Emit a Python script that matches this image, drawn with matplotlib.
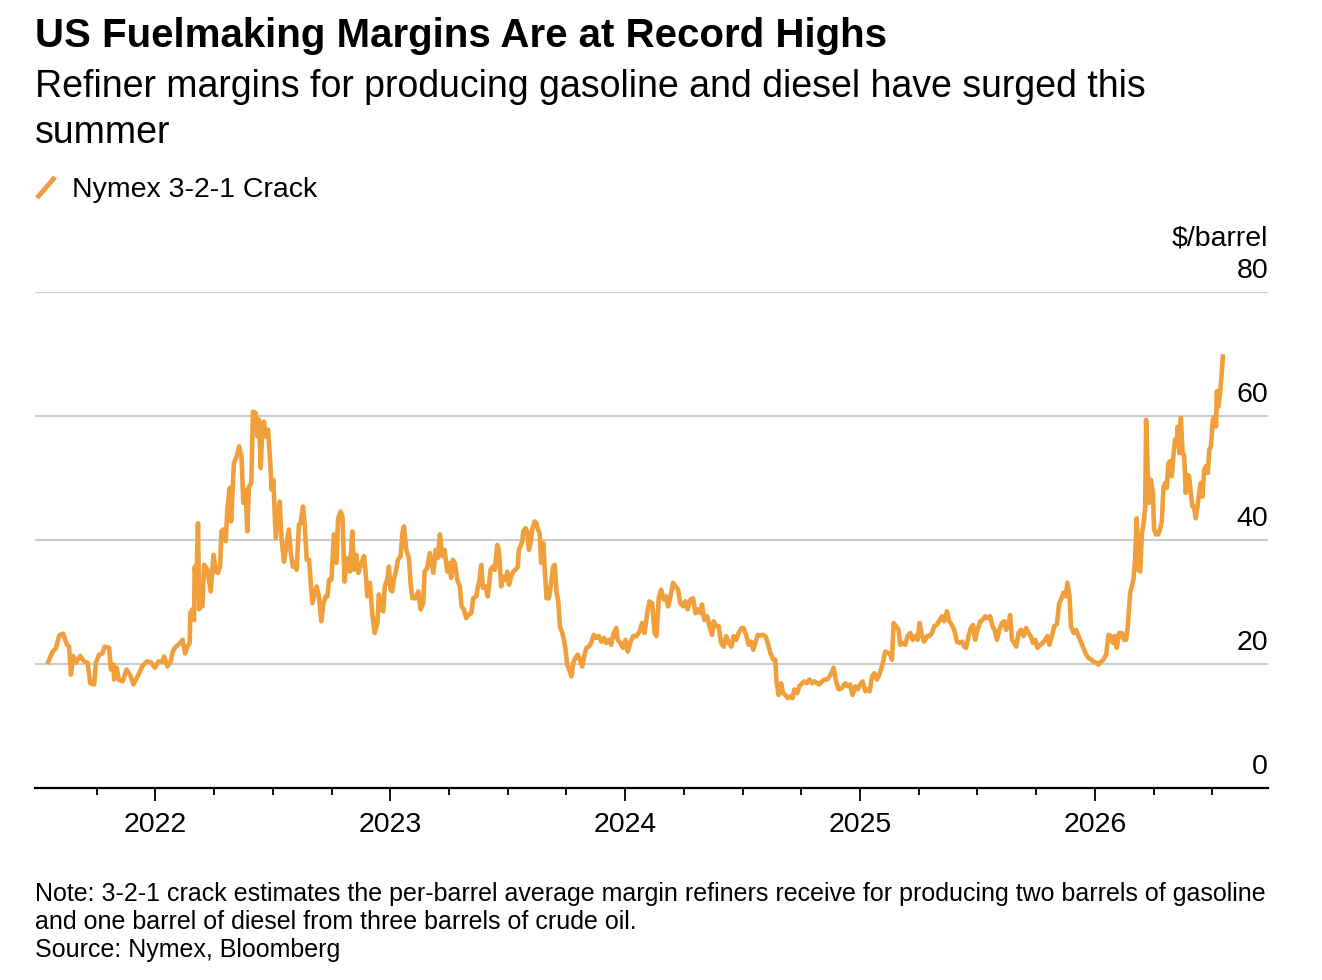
import matplotlib
matplotlib.use("Agg")
import matplotlib.pyplot as plt
import matplotlib.transforms as mtransforms
from matplotlib.lines import Line2D

plt.rcParams['font.family'] = ['Liberation Sans', 'DejaVu Sans']

# Nymex 3-2-1 crack, $/barrel (time as decimal year)
years = [
    2021.543, 2021.562, 2021.576, 2021.590, 2021.607, 2021.623, 2021.632, 2021.640, 2021.649, 2021.661,
    2021.679, 2021.696, 2021.711, 2021.722, 2021.739, 2021.746, 2021.760, 2021.774, 2021.784, 2021.803,
    2021.810, 2021.821, 2021.824, 2021.835, 2021.843, 2021.860, 2021.877, 2021.895, 2021.906, 2021.920,
    2021.934, 2021.945, 2021.963, 2021.980, 2021.997, 2022.013, 2022.030, 2022.037, 2022.051, 2022.065,
    2022.072, 2022.082, 2022.094, 2022.105, 2022.115, 2022.126, 2022.136, 2022.146, 2022.148, 2022.157,
    2022.164, 2022.167, 2022.174, 2022.181, 2022.186, 2022.193, 2022.200, 2022.207, 2022.221, 2022.235,
    2022.247, 2022.257, 2022.266, 2022.275, 2022.281, 2022.289, 2022.299, 2022.306, 2022.316, 2022.322,
    2022.334, 2022.346, 2022.356, 2022.366, 2022.374, 2022.384, 2022.391, 2022.398, 2022.408, 2022.415,
    2022.427, 2022.434, 2022.441, 2022.448, 2022.455, 2022.462, 2022.469, 2022.479, 2022.488, 2022.494,
    2022.502, 2022.512, 2022.519, 2022.529, 2022.536, 2022.547, 2022.557, 2022.568, 2022.576, 2022.585,
    2022.593, 2022.601, 2022.611, 2022.618, 2022.628, 2022.635, 2022.644, 2022.654, 2022.661, 2022.668,
    2022.678, 2022.686, 2022.696, 2022.706, 2022.715, 2022.725, 2022.732, 2022.739, 2022.749, 2022.753,
    2022.760, 2022.771, 2022.777, 2022.788, 2022.796, 2022.805, 2022.813, 2022.820, 2022.828, 2022.838,
    2022.845, 2022.855, 2022.864, 2022.874, 2022.888, 2022.895, 2022.902, 2022.913, 2022.923, 2022.933,
    2022.945, 2022.951, 2022.962, 2022.970, 2022.976, 2022.987, 2022.994, 2023.001, 2023.008, 2023.015,
    2023.025, 2023.032, 2023.044, 2023.051, 2023.058, 2023.068, 2023.079, 2023.086, 2023.094, 2023.108,
    2023.119, 2023.129, 2023.140, 2023.146, 2023.157, 2023.168, 2023.183, 2023.193, 2023.202, 2023.211,
    2023.221, 2023.231, 2023.242, 2023.249, 2023.259, 2023.266, 2023.275, 2023.285, 2023.296, 2023.303,
    2023.313, 2023.323, 2023.334, 2023.345, 2023.353, 2023.366, 2023.373, 2023.380, 2023.387, 2023.394,
    2023.405, 2023.415, 2023.427, 2023.436, 2023.445, 2023.455, 2023.462, 2023.472, 2023.481, 2023.491,
    2023.498, 2023.505, 2023.515, 2023.523, 2023.533, 2023.543, 2023.547, 2023.554, 2023.562, 2023.566,
    2023.576, 2023.583, 2023.590, 2023.597, 2023.604, 2023.614, 2023.622, 2023.628, 2023.636, 2023.642,
    2023.651, 2023.656, 2023.665, 2023.675, 2023.685, 2023.693, 2023.700, 2023.708, 2023.715, 2023.722,
    2023.732, 2023.739, 2023.746, 2023.753, 2023.764, 2023.771, 2023.779, 2023.788, 2023.798, 2023.807,
    2023.817, 2023.827, 2023.835, 2023.845, 2023.855, 2023.866, 2023.876, 2023.888, 2023.898, 2023.909,
    2023.919, 2023.930, 2023.940, 2023.951, 2023.962, 2023.968, 2023.980, 2023.990, 2024.001, 2024.011,
    2024.022, 2024.034, 2024.048, 2024.062, 2024.072, 2024.082, 2024.094, 2024.103, 2024.115, 2024.125,
    2024.133, 2024.143, 2024.153, 2024.164, 2024.174, 2024.183, 2024.193, 2024.204, 2024.214, 2024.225,
    2024.235, 2024.247, 2024.256, 2024.266, 2024.278, 2024.289, 2024.299, 2024.309, 2024.320, 2024.327,
    2024.337, 2024.349, 2024.359, 2024.370, 2024.377, 2024.388, 2024.398, 2024.408, 2024.419, 2024.430,
    2024.441, 2024.452, 2024.462, 2024.473, 2024.483, 2024.495, 2024.504, 2024.515, 2024.526, 2024.536,
    2024.545, 2024.554, 2024.564, 2024.576, 2024.587, 2024.597, 2024.607, 2024.618, 2024.630, 2024.639,
    2024.644, 2024.653, 2024.664, 2024.672, 2024.682, 2024.692, 2024.703, 2024.713, 2024.720, 2024.732,
    2024.741, 2024.753, 2024.763, 2024.774, 2024.784, 2024.796, 2024.805, 2024.817, 2024.827, 2024.838,
    2024.849, 2024.859, 2024.870, 2024.881, 2024.887, 2024.898, 2024.909, 2024.923, 2024.937, 2024.947,
    2024.958, 2024.968, 2024.980, 2024.990, 2025.001, 2025.011, 2025.022, 2025.032, 2025.041, 2025.051,
    2025.061, 2025.072, 2025.082, 2025.093, 2025.100, 2025.107, 2025.117, 2025.129, 2025.136, 2025.143,
    2025.153, 2025.164, 2025.171, 2025.183, 2025.193, 2025.202, 2025.214, 2025.224, 2025.235, 2025.245,
    2025.253, 2025.264, 2025.273, 2025.285, 2025.295, 2025.306, 2025.316, 2025.327, 2025.339, 2025.349,
    2025.358, 2025.370, 2025.380, 2025.391, 2025.401, 2025.413, 2025.424, 2025.434, 2025.444, 2025.452,
    2025.462, 2025.472, 2025.481, 2025.490, 2025.500, 2025.512, 2025.521, 2025.533, 2025.543, 2025.554,
    2025.564, 2025.573, 2025.583, 2025.593, 2025.604, 2025.614, 2025.622, 2025.632, 2025.639, 2025.647,
    2025.656, 2025.665, 2025.675, 2025.685, 2025.696, 2025.707, 2025.717, 2025.727, 2025.736, 2025.746,
    2025.755, 2025.767, 2025.778, 2025.788, 2025.798, 2025.806, 2025.817, 2025.827, 2025.838, 2025.848,
    2025.856, 2025.866, 2025.876, 2025.883, 2025.892, 2025.898, 2025.909, 2025.920, 2025.930, 2025.940,
    2025.951, 2025.963, 2025.972, 2025.984, 2025.994, 2026.005, 2026.015, 2026.025, 2026.036, 2026.048,
    2026.058, 2026.068, 2026.076, 2026.086, 2026.093, 2026.103, 2026.115, 2026.124, 2026.133, 2026.140,
    2026.150, 2026.157, 2026.164, 2026.171, 2026.178, 2026.185, 2026.193, 2026.200, 2026.207, 2026.214,
    2026.218, 2026.225, 2026.231, 2026.238, 2026.247, 2026.252, 2026.260, 2026.270, 2026.277, 2026.285,
    2026.292, 2026.299, 2026.306, 2026.313, 2026.320, 2026.327, 2026.334, 2026.341, 2026.349, 2026.353,
    2026.360, 2026.366, 2026.373, 2026.380, 2026.387, 2026.394, 2026.401, 2026.408, 2026.415, 2026.422,
    2026.429, 2026.436, 2026.444, 2026.451, 2026.458, 2026.465, 2026.473, 2026.481, 2026.487, 2026.494,
    2026.502, 2026.509, 2026.516, 2026.519, 2026.526, 2026.533, 2026.540, 2026.545,
]
crack = [
    20.3, 22.0, 22.5, 24.6, 24.9, 23.1, 22.8, 18.3, 21.3, 20.2,
    21.3, 20.4, 20.2, 16.9, 16.7, 20.2, 21.5, 21.7, 22.8, 22.6,
    19.1, 19.9, 17.5, 19.4, 17.5, 17.2, 19.1, 18.0, 16.7, 17.7,
    18.8, 19.7, 20.4, 20.3, 19.4, 20.4, 20.4, 21.2, 19.6, 20.4,
    21.8, 22.6, 23.0, 23.4, 23.9, 21.7, 22.8, 23.4, 28.2, 28.8,
    27.1, 35.7, 33.1, 42.7, 28.8, 29.8, 29.3, 36.0, 35.2, 31.7,
    37.6, 34.9, 34.7, 35.7, 41.4, 41.7, 39.8, 44.9, 48.4, 43.0,
    52.4, 53.5, 55.1, 53.5, 46.0, 48.1, 41.4, 48.6, 49.2, 60.7,
    60.5, 56.7, 59.4, 51.6, 57.8, 59.1, 56.7, 57.8, 53.0, 48.1,
    49.7, 40.3, 42.7, 46.2, 40.6, 36.5, 39.0, 41.7, 37.9, 35.7,
    36.3, 35.2, 42.5, 42.7, 45.4, 42.7, 36.8, 36.8, 33.1, 29.8,
    31.2, 32.5, 30.9, 26.9, 29.8, 30.9, 30.9, 33.6, 33.6, 36.3,
    40.9, 36.3, 43.3, 44.6, 43.8, 33.3, 36.3, 37.1, 34.9, 41.4,
    35.2, 37.6, 34.7, 36.0, 37.4, 34.7, 30.9, 33.1, 28.2, 25.0,
    26.6, 31.2, 28.8, 28.5, 32.5, 33.6, 35.7, 32.0, 31.7, 33.6,
    35.2, 36.8, 37.4, 41.1, 42.2, 38.4, 37.1, 33.1, 30.6, 30.6,
    31.7, 28.8, 29.8, 34.9, 35.5, 37.9, 34.7, 38.4, 37.1, 40.9,
    37.4, 38.4, 34.9, 36.3, 33.9, 36.8, 36.3, 33.6, 32.5, 29.3,
    28.8, 27.4, 28.0, 28.2, 30.6, 30.9, 32.5, 33.6, 36.0, 32.3,
    32.5, 30.9, 35.2, 35.7, 35.2, 39.2, 38.4, 32.5, 34.1, 33.6,
    34.9, 32.8, 34.1, 34.9, 35.2, 35.7, 38.4, 39.0, 39.8, 41.4,
    41.9, 41.4, 38.4, 39.5, 41.7, 43.0, 42.7, 41.7, 41.1, 36.3,
    39.5, 36.3, 30.6, 30.6, 33.1, 35.7, 36.0, 31.5, 30.1, 26.1,
    25.0, 23.9, 22.3, 19.9, 18.8, 18.0, 20.2, 21.0, 21.5, 20.7,
    19.6, 21.5, 22.6, 22.8, 23.4, 24.7, 24.2, 24.5, 23.6, 24.2,
    23.4, 23.9, 23.1, 25.0, 25.8, 23.9, 23.4, 22.6, 23.9, 22.0,
    23.5, 24.5, 24.5, 25.3, 26.6, 25.0, 28.2, 30.1, 29.8, 25.0,
    24.5, 30.6, 32.0, 30.4, 30.9, 29.3, 30.9, 33.1, 32.5, 32.0,
    29.8, 29.3, 30.1, 28.8, 30.4, 30.6, 28.2, 28.8, 28.2, 29.6,
    27.1, 27.7, 26.1, 24.7, 26.9, 26.1, 26.1, 23.4, 22.8, 24.5,
    23.4, 22.8, 24.5, 23.9, 25.0, 25.8, 25.8, 24.7, 23.1, 23.6,
    22.3, 23.4, 24.7, 24.6, 24.7, 24.5, 23.4, 21.8, 20.7, 20.7,
    17.2, 15.0, 16.9, 15.3, 15.0, 14.5, 14.8, 14.5, 15.9, 15.3,
    16.4, 16.9, 17.2, 16.9, 17.5, 16.9, 17.2, 16.9, 16.7, 17.2,
    17.5, 17.5, 18.0, 18.8, 19.4, 17.2, 15.9, 16.1, 16.9, 16.4,
    16.7, 15.0, 16.4, 15.9, 16.7, 17.2, 15.6, 15.9, 15.6, 18.0,
    18.5, 17.5, 18.3, 19.6, 20.7, 22.0, 21.8, 21.5, 20.7, 26.6,
    26.1, 25.5, 23.1, 23.4, 23.1, 24.5, 25.0, 23.9, 24.5, 23.9,
    26.6, 24.5, 23.6, 24.5, 24.5, 25.0, 26.1, 26.3, 27.1, 27.7,
    26.9, 28.5, 26.9, 26.3, 25.5, 23.6, 23.4, 23.6, 22.8, 22.6,
    24.5, 25.8, 26.3, 23.9, 25.5, 26.9, 27.1, 27.7, 27.4, 27.7,
    26.1, 25.5, 23.9, 25.5, 26.6, 26.9, 25.5, 26.6, 27.9, 23.9,
    23.4, 22.8, 25.0, 25.5, 24.5, 25.8, 25.0, 24.5, 23.4, 23.9,
    22.6, 23.1, 23.4, 23.9, 24.5, 23.1, 24.5, 26.1, 26.4, 29.8,
    30.4, 31.5, 30.9, 33.1, 30.9, 26.1, 25.0, 25.5, 24.5, 23.6,
    22.6, 21.5, 21.0, 20.7, 20.4, 20.2, 19.9, 20.3, 20.7, 21.5,
    24.7, 24.5, 23.4, 24.5, 22.6, 25.0, 25.0, 23.9, 23.9, 26.1,
    31.5, 32.5, 33.6, 36.8, 43.5, 35.2, 34.9, 41.1, 42.5, 45.2,
    59.4, 50.8, 46.0, 49.7, 47.6, 41.7, 40.9, 40.9, 41.7, 43.0,
    48.6, 49.2, 48.4, 52.4, 52.7, 50.3, 53.5, 56.2, 56.2, 58.3,
    54.0, 59.7, 54.3, 53.5, 47.6, 50.5, 50.3, 47.6, 45.4, 45.4,
    43.5, 45.2, 47.6, 49.2, 47.0, 51.3, 51.9, 50.8, 54.6, 55.1,
    59.4, 59.9, 58.3, 64.0, 61.5, 63.7, 66.9, 69.6,
]

year_ticks = [2022, 2023, 2024, 2025, 2026]
quarter_ticks = [2021.75, 2022.25, 2022.5, 2022.75, 2023.25, 2023.5, 2023.75,
                 2024.25, 2024.5, 2024.75, 2025.25, 2025.5, 2025.75, 2026.25, 2026.5]
y_ticks = [0, 20, 40, 60, 80]

orange = '#f09f3a'
W, H = 1322, 980

fig = plt.figure(figsize=(W / 100, H / 100), dpi=100)
ax = fig.add_axes([35 / W, 1 - 788 / H, (1268 - 35) / W, (788 - 292) / H])

ax.plot(years, crack, color=orange, lw=3.3, solid_joinstyle='round', zorder=3)

ax.set_xlim(2021.487, 2026.737)
ax.set_ylim(0, 80)

# grid lines + labels sitting above each line on the right
for v in y_ticks[1:]:
    ax.axhline(v, color='#cccccc', lw=1.5, zorder=1)
lab_tr = mtransforms.blended_transform_factory(ax.transAxes, ax.transData)
for v in y_ticks:
    ax.annotate(str(v), xy=(1.0, v), xycoords=lab_tr, xytext=(0, 10), textcoords='offset points',
                ha='right', va='baseline', fontsize=20.5, color='black')
ax.set_yticks([])

for s in ['left', 'right', 'top']:
    ax.spines[s].set_visible(False)
ax.spines['bottom'].set_color('black')
ax.spines['bottom'].set_linewidth(1.6)

ax.set_xticks(year_ticks)
ax.set_xticklabels([str(y) for y in year_ticks], fontsize=20.5)
ax.set_xticks(quarter_ticks, minor=True)
ax.tick_params(axis='x', which='major', length=9.5, width=1.3, color='black', pad=8)
ax.tick_params(axis='x', which='minor', length=5.3, width=1.3, color='black')

# header
x0 = 35 / W
fig.text(x0, 1 - 47 / H, 'US Fuelmaking Margins Are at Record Highs',
         fontsize=29, fontweight='bold', ha='left', va='baseline')
fig.text(x0, 1 - 97 / H, 'Refiner margins for producing gasoline and diesel have surged this',
         fontsize=27, ha='left', va='baseline')
fig.text(x0, 1 - 143 / H, 'summer', fontsize=27, ha='left', va='baseline')

# legend
fig.add_artist(Line2D([37 / W, 55 / W], [1 - 198 / H, 1 - 177 / H],
                      color=orange, lw=3.5, solid_capstyle='butt'))
fig.text(72 / W, 1 - 197 / H, 'Nymex 3-2-1 Crack', fontsize=20.5, ha='left', va='baseline')

fig.text(1268 / W, 1 - 246 / H, '$/barrel', fontsize=20.5, ha='right', va='baseline')

# footnotes
fig.text(x0, 1 - 901 / H,
         'Note: 3-2-1 crack estimates the per-barrel average margin refiners receive for producing two barrels of gasoline',
         fontsize=18, ha='left', va='baseline')
fig.text(x0, 1 - 929 / H, 'and one barrel of diesel from three barrels of crude oil.',
         fontsize=18, ha='left', va='baseline')
fig.text(x0, 1 - 957 / H, 'Source: Nymex, Bloomberg', fontsize=18, ha='left', va='baseline')

fig.savefig('out.png', dpi=100)
